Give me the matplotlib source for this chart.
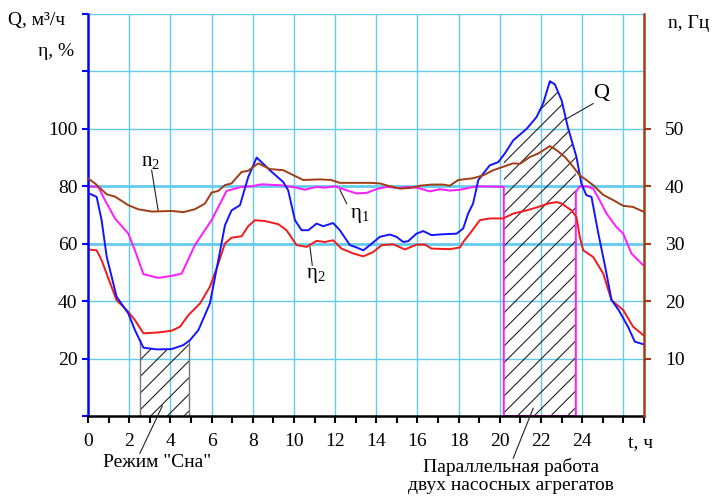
import numpy as np
import matplotlib
matplotlib.use("Agg")
import matplotlib.pyplot as plt

plt.rcParams['font.family'] = ['Liberation Serif', 'DejaVu Serif']
plt.rcParams['mathtext.fontset'] = 'custom'
plt.rcParams['mathtext.rm'] = 'Liberation Serif'
plt.rcParams['mathtext.it'] = 'Liberation Serif:italic'
plt.rcParams['hatch.linewidth'] = 0.8

# ---- data ----
t_Q = [0, 0.42, 0.66, 0.91, 1.39, 1.96, 2.28, 2.69, 3.33, 4.06, 4.63, 4.95, 5.36, 5.92, 6.33,
       6.65, 6.97, 7.38, 7.78, 8.19, 8.59, 8.83, 9.48, 9.72, 10.05, 10.37, 10.7, 11.1, 11.42,
       11.9, 12.23, 12.72, 13.04, 13.37, 13.69, 14.17, 14.66, 14.98, 15.31, 15.55, 15.95, 16.28,
       16.68, 17.25, 17.9, 18.22, 18.46, 18.7, 18.95, 19.19, 19.51, 19.92, 20.24, 20.65, 21.3,
       21.78, 22.1, 22.43, 22.67, 23.0, 23.3, 23.72, 23.96, 24.2, 24.45, 24.77, 25.1, 25.42,
       25.8, 26.23, 26.55, 26.96]
Q = [77.7, 76.3, 68.2, 55.4, 41.5, 35.7, 29.9, 23.8, 23.2, 23.3, 24.7, 26.4, 29.9, 39.2, 54.3,
     66.4, 71.6, 73.4, 83.2, 90.0, 87.3, 85.6, 81.5, 78.6, 68.2, 64.7, 64.7, 67.0, 66.1,
     67.2, 64.7, 59.5, 58.7, 57.7, 59.5, 62.4, 63.2, 62.4, 60.6, 60.9, 63.5, 64.4,
     63.0, 63.3, 63.5, 65.3, 70.5, 74.0, 82.1, 84.4, 87.3, 88.4, 91.4, 96.0, 100.0,
     104.1, 108.8, 116.6, 115.5, 109.9, 100.6, 90.2, 80.9, 76.9, 76.3, 64.0, 52.5, 40.5,
     36.5, 31.0, 25.9, 25.0]

t_eta2 = [0, 0.42, 0.66, 0.99, 1.39, 1.88, 2.28, 2.69, 3.41, 4.06, 4.47, 4.87, 5.44, 5.92, 6.33,
          6.65, 6.97, 7.46, 7.78, 8.11, 8.59, 9.24, 9.64, 10.13, 10.62, 11.1, 11.5, 11.9, 12.31,
          12.88, 13.37, 13.85, 14.26, 14.82, 15.39, 15.96, 16.36, 16.68, 17.57, 18.06, 18.22,
          18.54, 19.03, 19.51, 20.16, 20.65, 21.3, 21.86, 22.35, 22.75, 23.0, 23.48, 23.72,
          23.88, 24.05, 24.53, 25.02, 25.42, 25.99, 26.47, 26.96]
eta2 = [58, 57.7, 54.3, 47.9, 40.3, 36.9, 33.4, 28.8, 29.1, 29.7, 31.1, 35.1, 39.2, 45, 53.1,
        60.1, 62.1, 62.6, 66.1, 68.2, 67.9, 66.8, 64.7, 59.5, 58.9, 61, 60.6, 61.2, 58.3,
        56.6, 55.6, 57.1, 59.5, 59.8, 58, 59.7, 59.7, 58.3, 58.1, 58.7, 60.6,
        63.5, 68.2, 68.8, 68.8, 70.5, 71.6, 72.8, 74, 74.5, 74, 71.6, 69.3,
        62.4, 57.7, 55.4, 49.6, 40.3, 36.9, 31.1, 28.2]

t_eta1 = [0, 0.5, 0.83, 1.31, 1.96, 2.28, 2.69, 3.41, 4.06, 4.55, 5.19, 6.0, 6.73, 7.46, 7.95,
          8.43, 9.48, 10.13, 10.53, 11.1, 11.5, 11.99, 12.39, 13.04, 13.53, 14.01, 14.5, 15.07,
          15.55, 16.04, 16.6, 17.09, 17.57, 18.06, 18.87, 20.19, 20.19, 23.69, 23.69, 23.88,
          24.2, 24.53, 24.85, 25.18, 25.66, 25.99, 26.39, 26.96]
eta1 = [80, 79.8, 75.1, 68.8, 63.5, 57.7, 49.4, 48.1, 48.8, 49.6, 59.5, 68.2, 78.4, 79.8, 80,
        80.7, 80.3, 79.5, 78.8, 79.8, 79.5, 80, 79, 77.5, 77.7, 79, 79.8, 79.4,
        79.8, 79.4, 78.2, 79, 78.5, 78.8, 80, 79.8, 0, 0, 78, 80,
        80, 79.2, 75.1, 70.5, 65.8, 63.5, 56.6, 52.5]

t_n2 = [0, 0.34, 0.91, 1.31, 1.96, 2.44, 3.09, 4.06, 4.63, 5.19, 5.68, 6.0, 6.33, 6.65, 6.97,
        7.46, 7.78, 8.27, 8.83, 9.48, 10.05, 10.45, 11.26, 11.8, 12.23, 12.88, 13.69, 14.17,
        14.66, 15.15, 15.64, 16.12, 16.68, 17.25, 17.57, 17.98, 18.7, 19.19, 19.68, 20.16,
        20.65, 20.97, 21.46, 21.86, 22.43, 22.75, 23.16, 23.56, 23.88, 24.2, 24.53, 25.02,
        25.5, 25.99, 26.47, 26.96]
n2 = [41.4, 40.5, 38.6, 38.2, 36.7, 36.0, 35.6, 35.7, 35.5, 36.0, 37.0, 38.9, 39.2, 40.2, 40.5,
      42.5, 42.7, 44.0, 43.0, 42.8, 41.8, 41.1, 41.2, 41.1, 40.6, 40.6, 40.6, 40.5,
      40.0, 39.6, 39.7, 40.1, 40.3, 40.3, 40.1, 41.1, 41.4, 41.9, 42.8, 43.4,
      44.0, 43.9, 45.1, 45.7, 47.0, 46.3, 45.1, 43.4, 41.9, 41.1, 40.2, 38.5,
      37.6, 36.6, 36.4, 35.6]

sleep_span = (2.52, 4.9)
parallel_span = (20.19, 23.69)

x_labels = ['0', '2', '4', '6', '8', '10', '12', '14', '16', '18', '20', '22', '24', '']
y_labels = ['', '20', '40', '60', '80', '100', '', '']
n_labels = ['10', '20', '30', '40', '50']

# ---- colours ----
C_Q = '#1414FF'
C_E2 = '#F21A1A'
C_E1 = '#FF1AFF'
C_N = '#A23C16'
C_GRID = '#62CBEE'

W, H = 714, 496
fig = plt.figure(figsize=(W / 100, H / 100), dpi=100)
ax = fig.add_axes([88 / W, 80 / H, 556 / W, 402 / H])
ax.set_xlim(0, 27)
ax.set_ylim(0, 140)

# grid
for xv in range(2, 27, 2):
    ax.axvline(xv, color=C_GRID, lw=1.0, zorder=0)
for yv in range(20, 141, 20):
    ax.axhline(yv, color=C_GRID, lw=2.0 if yv in (60, 80) else 1.0, zorder=0)

# hatched areas under Q
tq = np.array(t_Q)
qq = np.array(Q)
for (a, b) in (sleep_span, parallel_span):
    inner = tq[(tq > a) & (tq < b)]
    xs = np.concatenate([[a], inner, [b]])
    ys = np.interp(xs, tq, qq)
    ax.fill_between(xs, 0, ys, facecolor='none', edgecolor='#222222', hatch='//', linewidth=0,
                    zorder=1)
ya = np.interp(sleep_span[0], tq, qq)
yb = np.interp(sleep_span[1], tq, qq)
ax.plot([sleep_span[0]] * 2, [0, ya], color='#777777', lw=1.0, zorder=1)
ax.plot([sleep_span[1]] * 2, [0, yb], color='#777777', lw=1.0, zorder=1)

ax.plot(t_eta1, eta1, color=C_E1, lw=1.4, zorder=2)
ax.plot(t_eta2, eta2, color=C_E2, lw=1.4, zorder=2)
ax.plot(t_Q, Q, color=C_Q, lw=1.4, zorder=3)

# axes styling
ax.spines['top'].set_visible(False)
ax.spines['right'].set_visible(False)
ax.spines['left'].set_color('#0000FF')
ax.spines['left'].set_linewidth(1.8)
ax.spines['bottom'].set_color('black')
ax.spines['bottom'].set_linewidth(1.8)
ax.spines['bottom'].set_zorder(5)

ax.set_xticks(range(0, 28))
ax.set_xticklabels([x_labels[i // 2] if i % 2 == 0 else '' for i in range(28)])
ax.tick_params(axis='x', direction='out', length=5, width=1.5, color='black', labelsize=14, pad=7)
ax.set_yticks(range(0, 141, 20))
ax.set_yticklabels(y_labels)
ax.tick_params(axis='y', direction='out', length=4.5, width=1.5, color='#0000FF', labelsize=14, pad=3)

ax2 = ax.twinx()
ax2.set_ylim(0, 70)
ax2.plot(t_n2, n2, color=C_N, lw=1.4, zorder=2)
for s in ('left', 'top', 'bottom'):
    ax2.spines[s].set_visible(False)
ax2.spines['right'].set_color(C_N)
ax2.spines['right'].set_linewidth(1.8)
ax2.set_yticks(range(10, 51, 10))
ax2.set_yticklabels(n_labels)
ax2.tick_params(axis='y', direction='out', length=5, width=1.5, color=C_N, labelsize=14, pad=10)

# annotations (in left-axis data units)
lead = dict(color='#222222', lw=0.8, clip_on=False, zorder=6)
ax.text(3.06, 88.7, r'n$_2$', fontsize=15, ha='center', va='center')
ax.plot([3.09, 3.41], [85.6, 71.4], **lead)
ax.text(13.2, 69.9, r'η$_1$', fontsize=15, ha='center', va='center')
ax.plot([12.56, 12.23], [74.0, 78.8], **lead)
ax.text(11.07, 49.0, r'η$_2$', fontsize=15, ha='center', va='center')
ax.plot([10.89, 10.78], [52.5, 58.9], **lead)
ax.text(24.9, 112.3, 'Q', fontsize=16, ha='center', va='center')
ax.plot([24.53, 23.24], [108.8, 103.5], **lead)
ax.text(3.37, -16.3, 'Режим "Сна"', fontsize=14, ha='center', va='center', clip_on=False)
ax.plot([2.52, 3.61], [-13.0, 3.5], **lead)
ax.text(20.53, -17.9, 'Параллельная работа', fontsize=14, ha='center', va='center', clip_on=False)
ax.text(20.53, -24.2, 'двух насосных агрегатов', fontsize=14, ha='center', va='center', clip_on=False)
ax.plot([20.65, 21.62], [-14.7, 2.7], **lead)

fig.text(8 / W, 1 - 20 / H, 'Q, м³/ч', fontsize=14, ha='left', va='center')
fig.text(56 / W, 1 - 52 / H, 'η, %', fontsize=14, ha='center', va='center')
fig.text(689 / W, 1 - 23 / H, 'n, Гц', fontsize=14, ha='center', va='center')
fig.text(640 / W, 1 - 443 / H, 't, ч', fontsize=14, ha='center', va='center')

fig.savefig('out.png', dpi=100, facecolor='white')
